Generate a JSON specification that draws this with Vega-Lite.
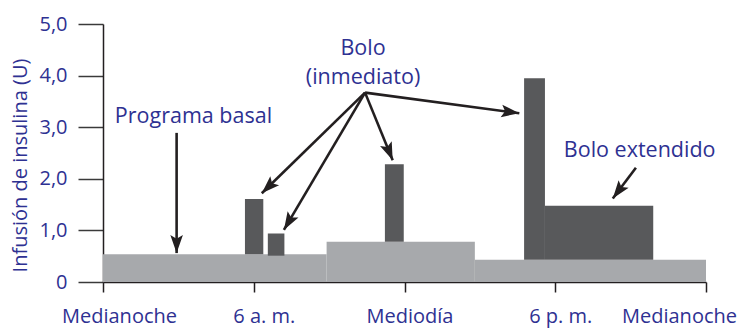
{
  "$schema": "https://vega.github.io/schema/vega-lite/v6.json",
  "width": 603,
  "height": 258,
  "autosize": {"type": "none"},
  "padding": {"left": 103, "top": 24, "right": 37, "bottom": 46},
  "background": "white",
  "config": {
    "view": {"stroke": null},
    "font": "Open Sans",
    "axis": {"grid": false}
  },
  "datasets": {
    "basal": [
      {"start": 0, "end": 8.9, "rate": 0.54},
      {"start": 8.9, "end": 14.8, "rate": 0.78},
      {"start": 14.8, "end": 24, "rate": 0.43}
    ],
    "bolus": [
      {"start": 5.65, "end": 6.38, "base": 0.54, "top": 1.61},
      {"start": 6.56, "end": 7.22, "base": 0.51, "top": 0.94},
      {"start": 11.22, "end": 11.97, "base": 0.78, "top": 2.28},
      {"start": 16.76, "end": 17.59, "base": 0.43, "top": 3.95},
      {"start": 17.59, "end": 21.9, "base": 0.43, "top": 1.48}
    ],
    "arrows": [
      {"x": 2.93, "y": 2.89, "x2": 2.93, "y2": 0.56},
      {"x": 10.43, "y": 3.67, "x2": 6.32, "y2": 1.72},
      {"x": 10.43, "y": 3.67, "x2": 7.2, "y2": 1.01},
      {"x": 10.43, "y": 3.67, "x2": 11.53, "y2": 2.36},
      {"x": 10.43, "y": 3.67, "x2": 16.57, "y2": 3.27},
      {"x": 21.21, "y": 2.215, "x2": 20.29, "y2": 1.62}
    ],
    "labels": [
      {"text": "Programa basal", "x": 3.6, "y": 3.08},
      {"text": "Bolo", "x": 10.35, "y": 4.4},
      {"text": "(inmediato)", "x": 10.35, "y": 3.84},
      {"text": "Bolo extendido", "x": 21.36, "y": 2.43}
    ]
  },
  "layer": [
    {
      "data": {"name": "basal"},
      "mark": {"type": "rect", "color": "#a7a9ac"},
      "encoding": {
        "x": {
          "field": "start", "type": "quantitative",
          "scale": {"domain": [0, 24], "nice": false, "zero": false},
          "axis": {
            "values": [0, 6, 12, 18, 24],
            "title": null,
            "labelExpr": "datum.value == 0 || datum.value == 24 ? 'Medianoche' : datum.value == 6 ? '6 a. m.' : datum.value == 12 ? 'Mediodía' : '6 p. m.'",
            "labelFontSize": 20,
            "labelColor": "#2e3192",
            "labelBaseline": "alphabetic",
            "labelPadding": 30,
            "labelOffset": {"condition": [{"test": "datum.value == 0", "value": 16}, {"test": "datum.value == 24", "value": -27}, {"test": "datum.value == 6", "value": 10}], "value": 5},
            "labelFlush": false,
            "labelOverlap": false,
            "tickSize": 10,
            "tickWidth": 1.5,
            "tickColor": "#231f20",
            "domainColor": "#231f20",
            "domainWidth": 1.5
          }
        },
        "x2": {"field": "end"},
        "y": {
          "field": "rate", "type": "quantitative",
          "scale": {"domain": [0, 5], "nice": false},
          "axis": {
            "values": [0, 1, 2, 3, 4, 5],
            "title": "Infusión de insulina (U)",
            "titleFontSize": 20,
            "titleFontWeight": "normal",
            "titleColor": "#2e3192",
            "titleAngle": -90,
            "titleX": -83,
            "titleY": 141,
            "titleAlign": "center",
            "titleBaseline": "middle",
            "labelExpr": "datum.value == 0 ? '0' : replace(format(datum.value, '.1f'), '.', ',')",
            "labelFontSize": 20,
            "labelColor": "#2e3192",
            "labelPadding": 11,
            "tickSize": 25,
            "tickWidth": 1.5,
            "tickColor": "#3a3a3a",
            "domainColor": "#231f20",
            "domainWidth": 1.5
          }
        },
        "y2": {"datum": 0}
      }
    },
    {
      "data": {"name": "bolus"},
      "mark": {"type": "rect", "color": "#58595b"},
      "encoding": {
        "x": {"field": "start", "type": "quantitative"},
        "x2": {"field": "end"},
        "y": {"field": "base", "type": "quantitative"},
        "y2": {"field": "top"}
      }
    },
    {
      "data": {"name": "arrows"},
      "mark": {"type": "rule", "color": "#231f20", "strokeWidth": 2.6},
      "encoding": {
        "x": {"field": "x", "type": "quantitative"},
        "y": {"field": "y", "type": "quantitative"},
        "x2": {"field": "x2"},
        "y2": {"field": "y2"}
      }
    },
    {
      "data": {"name": "arrows"},
      "transform": [
        {"calculate": "atan2((datum.x2 - datum.x) * 25.125, (datum.y2 - datum.y) * 51.6) * 180 / PI", "as": "ang"}
      ],
      "mark": {"type": "point", "shape": "M0,0L0.7,2L0,1.6L-0.7,2Z", "filled": true, "size": 324, "color": "#231f20", "opacity": 1, "strokeWidth": 0},
      "encoding": {
        "x": {"field": "x2", "type": "quantitative"},
        "y": {"field": "y2", "type": "quantitative"},
        "angle": {"field": "ang", "type": "quantitative", "scale": null}
      }
    },
    {
      "data": {"name": "labels"},
      "mark": {"type": "text", "color": "#2e3192", "fontSize": 21.5, "align": "center", "baseline": "alphabetic"},
      "encoding": {
        "x": {"field": "x", "type": "quantitative"},
        "y": {"field": "y", "type": "quantitative"},
        "text": {"field": "text"}
      }
    }
  ]
}
